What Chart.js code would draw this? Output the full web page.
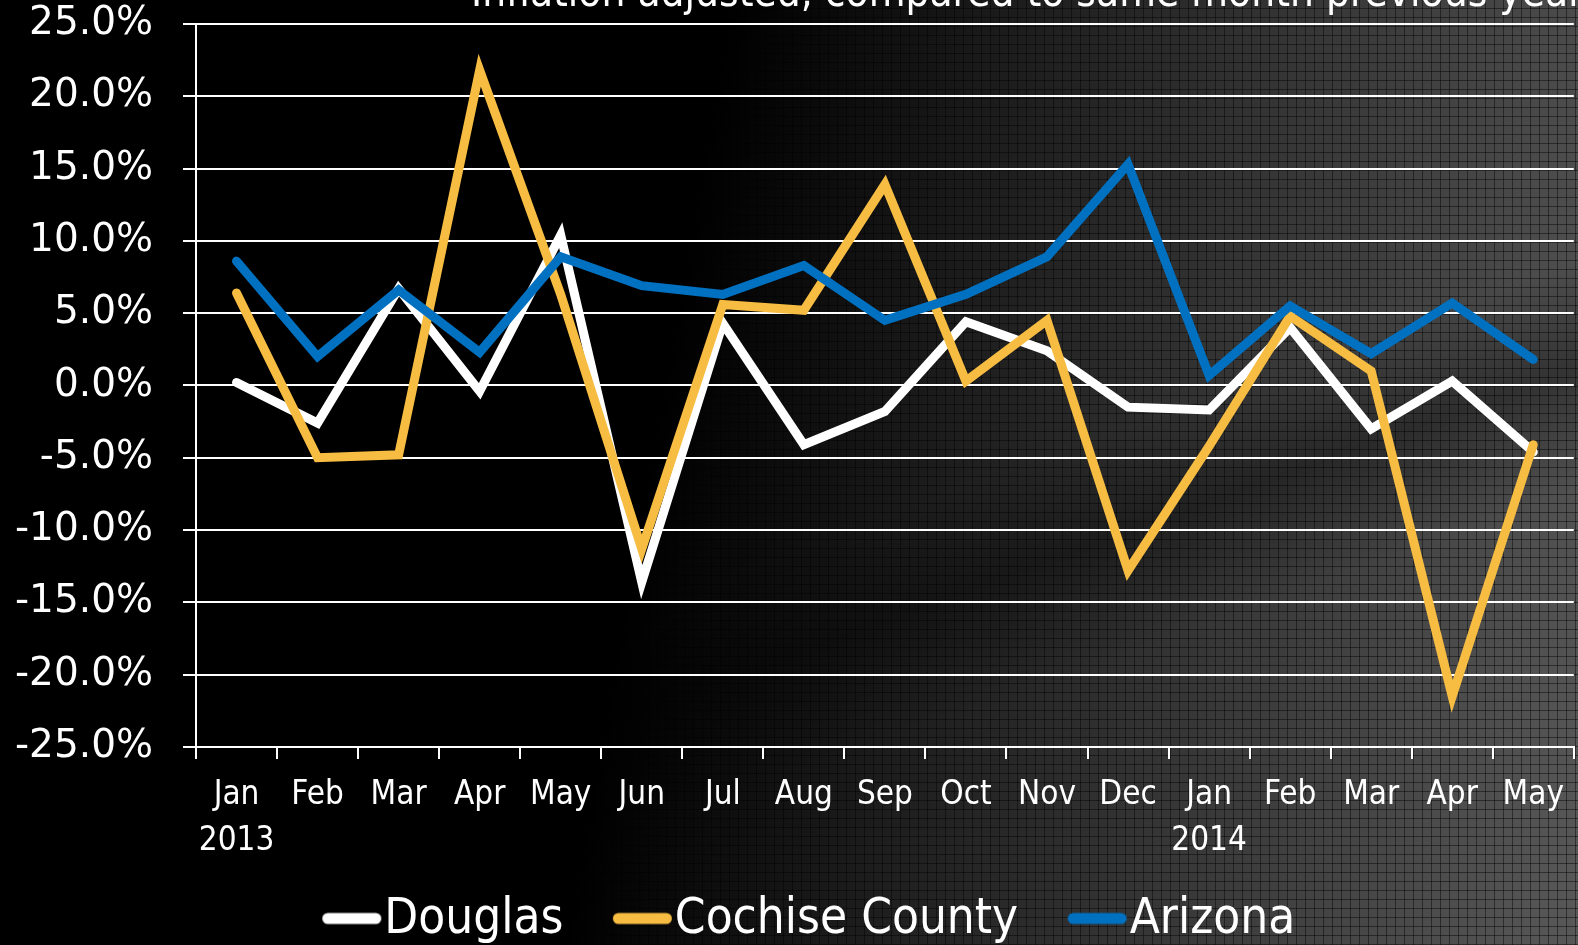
<!DOCTYPE html>
<html>
<head>
<meta charset="utf-8">
<script src="https://cdn.jsdelivr.net/npm/chart.js@4.4.1/dist/chart.umd.min.js"></script>
<style>
  html, body { margin: 0; padding: 0; }
  body {
    width: 1578px; height: 945px; overflow: hidden;
    background:
      repeating-linear-gradient(90deg, rgba(0,0,0,0.45) 0 1px, transparent 1px 9px),
      repeating-linear-gradient(0deg, rgba(0,0,0,0.45) 0 1px, transparent 1px 9px),
      linear-gradient(160deg, rgba(0,0,0,0) 55%, rgba(0,0,0,0.35) 62%, rgba(0,0,0,0) 70%),
      linear-gradient(100deg, #000 0%, #000 42%, #1c1c1c 58%, #363636 75%, #585858 100%);
  }
  #wrap { position: relative; width: 1578px; height: 945px; }
</style>
</head>
<body>
<div id="wrap"><canvas id="myChart" width="1578" height="945"></canvas></div>
<script>
// months, first Jan of each year carries the year on a second line
const months = [["Jan", "2013"], "Feb", "Mar", "Apr", "May", "Jun", "Jul", "Aug", "Sep", "Oct", "Nov", "Dec",
  ["Jan", "2014"], "Feb", "Mar", "Apr", "May"];

// percent change, inflation adjusted, vs same month previous year
const douglas = [0.2, -2.6, 6.7, -0.4, 10.4, -13.6, 4.3, -4.1, -1.8, 4.4, 2.4, -1.5, -1.7, 4.0, -3.0, 0.3, -4.6];
const cochise = [6.4, -5.0, -4.8, 21.8, 6.3, -11.3, 5.6, 5.2, 13.9, 0.3, 4.5, -12.8, -4.2, 4.8, 1.0, -21.5, -4.1];
const arizona = [8.6, 2.0, 6.6, 2.3, 8.9, 6.9, 6.3, 8.3, 4.5, 6.3, 8.9, 15.3, 0.7, 5.5, 2.2, 5.7, 1.8];

const titleText = "Inflation adjusted, compared to same month previous year";

const narrow = '"Liberation Sans Narrow", "DejaVu Sans Condensed", "Open Sans", sans-serif';

var ctx = document.getElementById("myChart").getContext("2d");

// legend swatch: thick rounded bar sitting right up against the label text
function swatch(color) {
  const c = document.createElement("canvas");
  c.width = 114;
  c.height = 26;
  const g = c.getContext("2d");
  g.strokeStyle = color;
  g.lineWidth = 11;
  g.lineCap = "round";
  g.beginPath();
  g.moveTo(59.5, 11);
  g.lineTo(107.5, 11);
  g.stroke();
  return c;
}

// cut-off title at the very top of the picture
const topTitle = {
  id: "topTitle",
  afterDraw(chart) {
    const c = chart.ctx;
    c.save();
    c.fillStyle = "#ffffff";
    c.font = "42px " + narrow;
    c.textAlign = "left";
    c.textBaseline = "alphabetic";
    c.fillText(titleText, 471, 6);
    c.restore();
  }
};

function lineSet(label, data, color, order) {
  return {
    label: label,
    data: data,
    borderColor: color,
    backgroundColor: color,
    borderWidth: 9,
    borderCapStyle: "round",
    borderJoinStyle: "miter",
    pointRadius: 0,
    pointHoverRadius: 0,
    pointStyle: swatch(color),
    tension: 0,
    order: order
  };
}

var myChart = new Chart(ctx, {
  type: "line",
  data: {
    labels: months,
    datasets: [
      lineSet("Douglas", douglas, "#ffffff", 3),
      lineSet("Cochise County", cochise, "#f7bc42", 2),
      lineSet("Arizona", arizona, "#0070c0", 1)
    ]
  },
  plugins: [topTitle],
  options: {
    responsive: false,
    animation: false,
    devicePixelRatio: 1,
    layout: { padding: { left: 10, right: 2, top: 24, bottom: -10 } },
    plugins: {
      tooltip: { enabled: false },
      legend: {
        position: "bottom",
        labels: {
          color: "#ffffff",
          font: { family: narrow, size: 49 },
          usePointStyle: true,
          pointStyleWidth: 69,
          boxHeight: 14,
          padding: 18,
          sort: (a, b) => a.datasetIndex - b.datasetIndex
        }
      }
    },
    scales: {
      x: {
        offset: true,
        grid: {
          offset: true,
          drawOnChartArea: false,
          drawTicks: true,
          tickLength: 12,
          color: "#ffffff",
          lineWidth: 2
        },
        border: { display: true, color: "#ffffff", width: 2 },
        ticks: {
          color: "#ffffff",
          font: { family: narrow, size: 33, lineHeight: 1.38 },
          padding: 14,
          maxRotation: 0,
          autoSkip: false
        }
      },
      y: {
        min: -25,
        max: 25,
        afterFit(scale) {
          scale.width = 186;
          scale.paddingTop = 0;
          scale.paddingBottom = 0;
        },
        grid: {
          color: "#ffffff",
          lineWidth: 2,
          tickLength: 13
        },
        border: { display: true, color: "#ffffff", width: 2 },
        ticks: {
          stepSize: 5,
          color: "#ffffff",
          padding: 30,
          font: { family: '"DejaVu Sans", sans-serif', size: 39 },
          callback: (v) => v.toFixed(1) + "%"
        }
      }
    }
  }
});
</script>
</body>
</html>
